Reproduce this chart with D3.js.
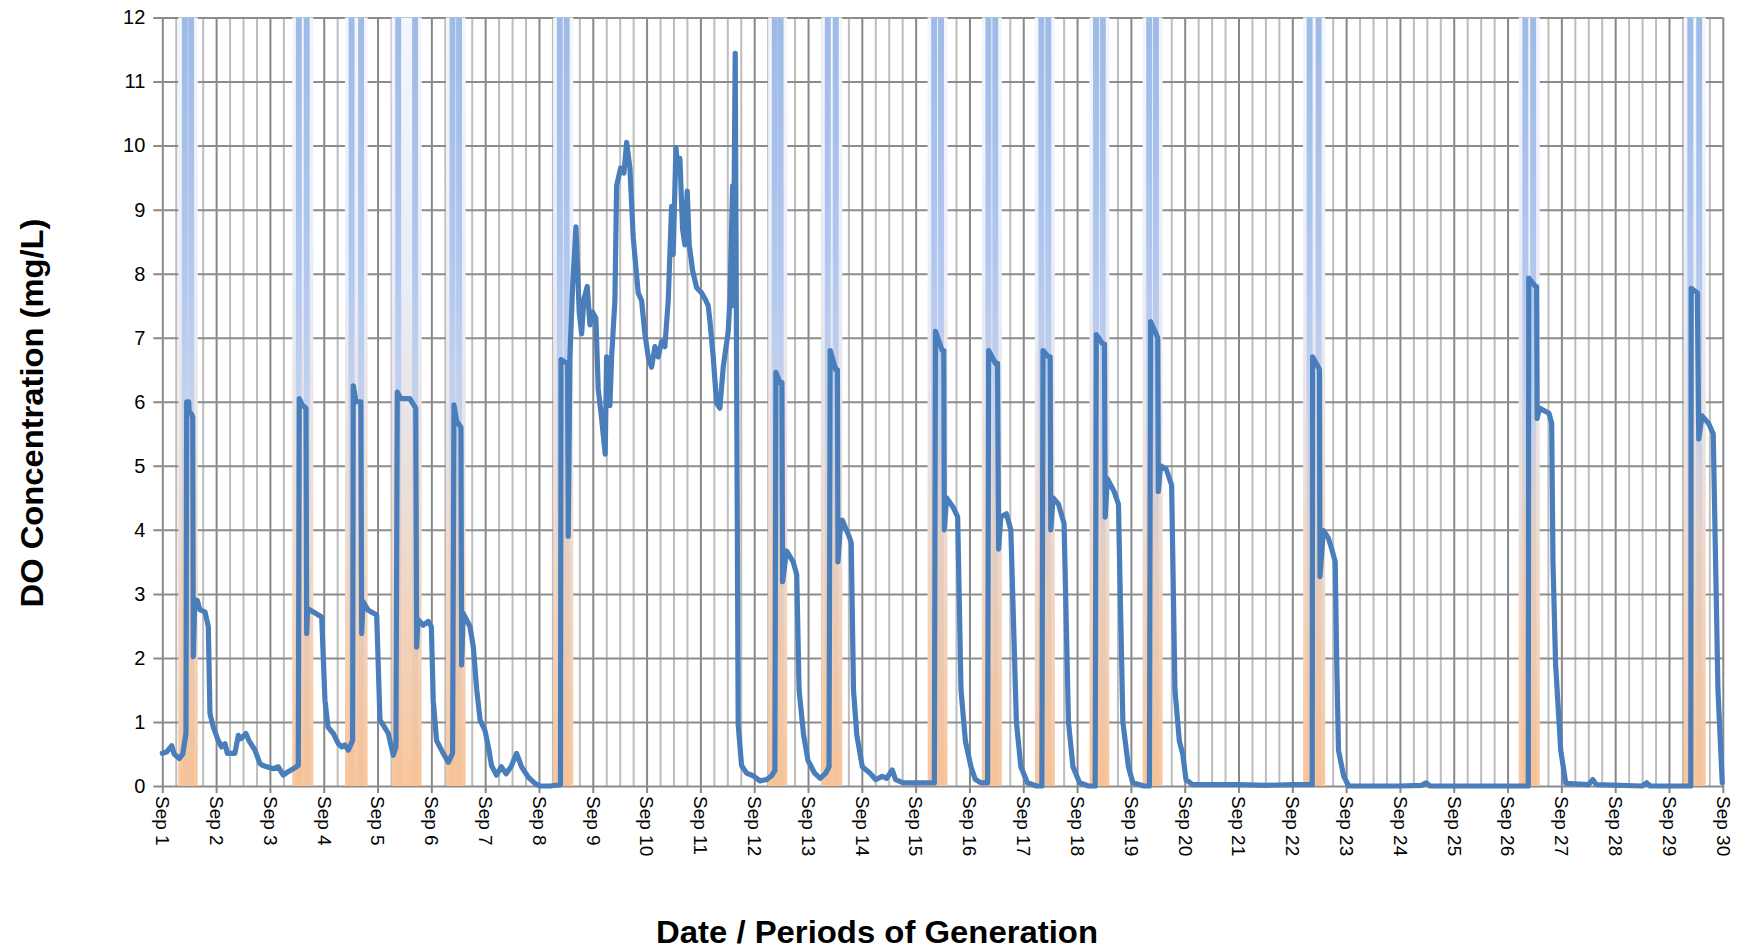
<!DOCTYPE html>
<html>
<head>
<meta charset="utf-8">
<script src="https://cdn.jsdelivr.net/npm/d3@7"></script>
<style>
  body { margin: 0; background: #fff; }
  svg { display: block; }
</style>
</head>
<body>
<svg id="chart" width="1738" height="951"></svg>
<script>
// DO concentration vs time, with generation periods shaded

// day offsets from Sep 1 (0) to Sep 30 (29)
const dayLabels = d3.range(1, 31).map(d => 'Sep ' + d)
const yTicks = [0, 1, 2, 3, 4, 5, 6, 7, 8, 9, 10, 11, 12]

// generation periods [start, end] in days after Sep 1 00:00
const genBands = [
  [0.297, 0.658], [2.415, 2.806], [3.395, 3.816], [4.262, 4.82],
  [5.271, 5.637], [7.265, 7.637], [11.26, 11.613], [12.245, 12.637],
  [14.222, 14.593], [15.23, 15.602], [16.215, 16.587], [17.23, 17.6],
  [18.218, 18.588], [21.2, 21.61], [25.208, 25.598], [28.274, 28.683]
]

// [day, mg/L]
const doSeries = [
  [0, 0.51], [0.08, 0.53], [0.175, 0.63], [0.22, 0.5], [0.316, 0.43], [0.38, 0.5], [0.44, 0.82],
  [0.453, 6.0], [0.49, 6.0], [0.5, 5.85], [0.55, 5.8], [0.565, 5.75], [0.576, 2.02], [0.6, 2.8],
  [0.65, 2.9], [0.7, 2.75], [0.793, 2.72], [0.855, 2.49], [0.886, 1.13], [0.948, 0.92], [1.04, 0.71],
  [1.1, 0.61], [1.165, 0.66], [1.208, 0.51], [1.35, 0.51], [1.412, 0.79], [1.46, 0.74], [1.555, 0.82],
  [1.61, 0.71], [1.722, 0.56], [1.815, 0.35], [1.87, 0.32], [2.062, 0.27], [2.155, 0.3], [2.248, 0.17],
  [2.33, 0.22], [2.434, 0.27], [2.527, 0.32], [2.546, 6.05], [2.6, 5.95], [2.67, 5.9], [2.683, 2.38],
  [2.70, 2.77], [2.80, 2.72], [2.962, 2.64], [3.023, 1.34], [3.08, 0.92], [3.178, 0.82], [3.27, 0.66],
  [3.333, 0.61], [3.39, 0.64], [3.456, 0.56], [3.537, 0.71], [3.549, 6.25], [3.6, 6.0], [3.69, 6.0],
  [3.705, 2.38], [3.73, 2.88], [3.82, 2.75], [3.984, 2.67], [4.045, 1.03], [4.13, 0.92], [4.2, 0.82],
  [4.292, 0.48], [4.342, 0.61], [4.367, 6.15], [4.43, 6.05], [4.6, 6.05], [4.71, 5.9], [4.727, 2.17],
  [4.75, 2.6], [4.85, 2.51], [4.942, 2.57], [5.0, 2.49], [5.035, 1.34], [5.097, 0.71], [5.22, 0.51],
  [5.314, 0.37], [5.395, 0.51], [5.42, 5.95], [5.47, 5.7], [5.55, 5.6], [5.563, 1.89], [5.59, 2.7],
  [5.717, 2.49], [5.78, 2.17], [5.844, 1.5], [5.906, 1.03], [5.996, 0.87], [6.06, 0.61], [6.118, 0.32],
  [6.21, 0.17], [6.3, 0.3], [6.39, 0.19], [6.48, 0.3], [6.584, 0.51], [6.677, 0.3], [6.8, 0.14],
  [6.925, 0.04], [7.018, 0.0], [7.206, 0.0], [7.40, 0.02], [7.41, 6.66], [7.48, 6.62], [7.532, 6.6],
  [7.544, 3.9], [7.575, 6.7], [7.625, 7.8], [7.687, 8.73], [7.748, 7.4], [7.793, 7.06], [7.835, 7.6],
  [7.897, 7.8], [7.947, 7.2], [7.997, 7.4], [8.058, 7.3], [8.101, 6.2], [8.164, 5.74], [8.231, 5.18],
  [8.257, 6.7], [8.318, 5.94], [8.35, 6.7], [8.411, 7.58], [8.443, 9.37], [8.517, 9.65], [8.579, 9.57],
  [8.629, 10.05], [8.69, 9.65], [8.751, 8.57], [8.844, 7.7], [8.907, 7.58], [8.969, 7.06], [9.03, 6.7],
  [9.093, 6.54], [9.155, 6.86], [9.216, 6.7], [9.279, 6.94], [9.34, 6.86], [9.402, 7.58], [9.465, 9.05],
  [9.495, 8.3], [9.545, 9.97], [9.588, 9.57], [9.619, 9.8], [9.669, 8.69], [9.712, 8.45], [9.755, 9.29],
  [9.792, 8.45], [9.855, 8.05], [9.93, 7.78], [10.022, 7.7], [10.102, 7.58], [10.145, 7.5], [10.177, 7.26],
  [10.238, 6.7], [10.301, 5.98], [10.362, 5.9], [10.424, 6.54], [10.517, 7.1], [10.548, 7.58],
  [10.598, 9.37], [10.61, 7.5], [10.647, 11.44], [10.702, 0.96], [10.765, 0.32], [10.858, 0.2],
  [10.981, 0.16], [11.106, 0.08], [11.23, 0.1], [11.323, 0.16], [11.384, 0.24], [11.403, 6.46],
  [11.477, 6.3], [11.515, 6.3], [11.527, 3.19], [11.601, 3.67], [11.724, 3.5], [11.79, 3.3],
  [11.834, 1.5], [11.917, 0.8], [11.999, 0.4], [12.123, 0.2], [12.226, 0.12], [12.329, 0.2],
  [12.391, 0.3], [12.412, 6.8], [12.515, 6.5], [12.546, 6.5], [12.556, 3.5], [12.597, 4.0],
  [12.638, 4.15], [12.762, 3.9], [12.803, 3.8], [12.845, 1.5], [12.906, 0.8], [13.009, 0.3],
  [13.153, 0.2], [13.256, 0.1], [13.38, 0.15], [13.462, 0.12], [13.565, 0.25], [13.627, 0.1],
  [13.771, 0.05], [14.183, 0.05], [14.348, 0.05], [14.369, 7.1], [14.493, 6.8], [14.523, 6.8],
  [14.533, 4.0], [14.575, 4.5], [14.698, 4.35], [14.781, 4.2], [14.843, 1.5], [14.925, 0.7],
  [15.028, 0.3], [15.11, 0.1], [15.213, 0.05], [15.337, 0.05], [15.357, 6.8], [15.481, 6.6],
  [15.522, 6.6], [15.542, 3.7], [15.583, 4.2], [15.686, 4.25], [15.769, 4.0], [15.872, 1.0],
  [15.955, 0.3], [16.078, 0.05], [16.243, 0.0], [16.346, 0.0], [16.367, 6.8], [16.47, 6.7],
  [16.5, 6.7], [16.511, 4.0], [16.552, 4.5], [16.655, 4.4], [16.758, 4.1], [16.84, 1.0], [16.923, 0.3],
  [17.047, 0.05], [17.212, 0.0], [17.336, 0.0], [17.357, 7.05], [17.48, 6.9], [17.51, 6.9],
  [17.522, 4.2], [17.563, 4.8], [17.687, 4.6], [17.769, 4.4], [17.851, 1.0], [17.954, 0.3],
  [18.036, 0.05], [18.242, 0.0], [18.345, 0.0], [18.366, 7.25], [18.448, 7.1], [18.5, 7.0],
  [18.51, 4.6], [18.551, 5.0], [18.654, 4.95], [18.757, 4.7], [18.819, 1.5], [18.901, 0.7],
  [18.963, 0.5], [19.024, 0.1], [19.148, 0.02], [20.0, 0.02], [20.5, 0.01], [21.0, 0.02],
  [21.37, 0.02], [21.377, 6.7], [21.483, 6.54], [21.505, 6.5], [21.514, 3.27], [21.577, 3.99],
  [21.67, 3.87], [21.733, 3.7], [21.797, 3.5], [21.826, 1.9], [21.858, 0.56], [21.953, 0.16],
  [22.046, 0.0], [23.0, 0.0], [23.4, 0.01], [23.486, 0.05], [23.56, 0.0], [25.385, 0.0],
  [25.394, 7.93], [25.518, 7.8], [25.54, 7.8], [25.55, 5.74], [25.593, 5.9], [25.77, 5.82],
  [25.82, 5.66], [25.844, 3.5], [25.893, 1.9], [25.988, 0.56], [26.082, 0.04], [26.5, 0.02],
  [26.583, 0.1], [26.65, 0.02], [27.5, 0.0], [27.586, 0.05], [27.65, 0.0], [28.405, 0.0],
  [28.413, 7.77], [28.527, 7.7], [28.553, 5.42], [28.614, 5.78], [28.738, 5.66], [28.822, 5.5],
  [28.866, 3.5], [28.91, 1.5], [28.99, 0.05]
]

const svg = d3.select('#chart')
const plotLeft = 162.3
const plotRight = 1722.8
const plotTop = 17.5
const plotBottom = 786
const plotH = plotBottom - plotTop

const x = d3.scaleLinear().domain([0, 29]).range([plotLeft, plotRight])
const y = d3.scaleLinear().domain([0, 12]).range([plotBottom, plotTop])

const labelFont = "'Liberation Sans', Arial, sans-serif"
const titleFont = "'Liberation Sans Narrow', 'Liberation Sans', Arial, sans-serif"

// gradients for the generation shading
const defs = svg.append('defs')
const addGrad = (id, stops) => {
  const g = defs.append('linearGradient')
    .attr('id', id)
    .attr('gradientUnits', 'userSpaceOnUse')
    .attr('x1', 0).attr('x2', 0)
    .attr('y1', plotTop).attr('y2', plotBottom)
  stops.forEach(s => g.append('stop').attr('offset', s[0]).attr('stop-color', s[1]))
}
addGrad('bandGrad', [['0%', '#f3f6fd'], ['35%', '#e8edf8'], ['60%', '#ebdfdb'], ['100%', '#f9c69c']])
addGrad('unitGrad', [['0%', '#9ebae6'], ['30%', '#b0c6ee'], ['50%', '#c3d1ee'], ['68%', '#e2cfc6'], ['100%', '#f5c298']])

// vertical gridlines: 6-hour minor, daily major
const minor = d3.range(0, 29 * 4 + 1).filter(i => i % 4 !== 0).map(i => i / 4)
svg.append('g')
  .attr('transform', `translate(0,${plotBottom})`)
  .call(d3.axisBottom(x).tickValues(minor).tickSize(-plotH).tickFormat(''))
  .call(g => g.select('.domain').remove())
  .call(g => g.selectAll('line').attr('stroke', '#bdbdbd').attr('stroke-width', 2))

svg.append('g')
  .attr('transform', `translate(0,${plotBottom})`)
  .call(d3.axisBottom(x).tickValues(d3.range(0, 30)).tickSize(-plotH).tickFormat(''))
  .call(g => g.select('.domain').remove())
  .call(g => g.selectAll('line').attr('stroke', '#888').attr('stroke-width', 2))

// horizontal gridlines (extending left as tick marks)
svg.append('g')
  .attr('transform', `translate(${plotLeft},0)`)
  .call(d3.axisLeft(y).tickValues(yTicks).tickSize(-(plotRight - plotLeft)).tickFormat(''))
  .call(g => g.select('.domain').remove())
  .call(g => g.selectAll('line').attr('x1', -9).attr('stroke', '#8c8c8c').attr('stroke-width', 2))

// generation shading
const gen = svg.append('g')
gen.selectAll('rect.band')
  .data(genBands)
  .enter().append('rect')
  .attr('class', 'band')
  .attr('x', d => x(d[0]))
  .attr('width', d => x(d[1]) - x(d[0]))
  .attr('y', plotTop)
  .attr('height', plotH)
  .attr('fill', 'url(#bandGrad)')

const unitW = 0.11
const unitInset = 0.067
const units = []
genBands.forEach(b => {
  units.push([b[0] + unitInset, b[0] + unitInset + unitW])
  units.push([b[1] - unitInset - unitW, b[1] - unitInset])
})
gen.selectAll('rect.unit')
  .data(units)
  .enter().append('rect')
  .attr('class', 'unit')
  .attr('x', d => x(d[0]))
  .attr('width', d => x(d[1]) - x(d[0]))
  .attr('y', plotTop)
  .attr('height', plotH)
  .attr('fill', 'url(#unitGrad)')

// x axis: day ticks + rotated labels
svg.append('g')
  .attr('transform', `translate(0,${plotBottom})`)
  .call(d3.axisBottom(x).tickValues(d3.range(0, 30)).tickSize(7).tickFormat(i => dayLabels[i]))
  .call(g => g.select('.domain').remove())
  .call(g => g.selectAll('line').attr('stroke', '#888').attr('stroke-width', 2))
  .call(g => g.selectAll('text')
    .attr('transform', 'rotate(90)')
    .attr('x', 10)
    .attr('y', 0)
    .attr('dy', '0.35em')
    .attr('text-anchor', 'start')
    .attr('fill', '#000')
    .style('font-family', labelFont)
    .style('font-size', '19px'))

// y axis labels
svg.append('g')
  .attr('transform', `translate(${plotLeft},0)`)
  .call(d3.axisLeft(y).tickValues(yTicks).tickSize(9).tickPadding(8))
  .call(g => g.select('.domain').remove())
  .call(g => g.selectAll('line').remove())
  .call(g => g.selectAll('text')
    .attr('fill', '#000')
    .style('font-family', labelFont)
    .style('font-size', '20px'))

// DO line
const line = d3.line()
  .x(d => x(d[0]))
  .y(d => y(d[1]))

svg.append('path')
  .datum(doSeries)
  .attr('d', line)
  .attr('fill', 'none')
  .attr('stroke', '#4a7ebb')
  .attr('stroke-width', 5.2)
  .attr('stroke-linejoin', 'round')
  .attr('stroke-linecap', 'round')

// titles
svg.append('text')
  .attr('x', 877)
  .attr('y', 943)
  .attr('text-anchor', 'middle')
  .attr('textLength', 442)
  .attr('lengthAdjust', 'spacingAndGlyphs')
  .style('font-family', titleFont)
  .style('font-weight', 'bold')
  .style('font-size', '32px')
  .text('Date / Periods of Generation')

svg.append('text')
  .attr('transform', 'translate(43,413) rotate(-90)')
  .attr('text-anchor', 'middle')
  .attr('textLength', 389)
  .attr('lengthAdjust', 'spacingAndGlyphs')
  .style('font-family', titleFont)
  .style('font-weight', 'bold')
  .style('font-size', '32px')
  .text('DO Concentration (mg/L)')
</script>
</body>
</html>
